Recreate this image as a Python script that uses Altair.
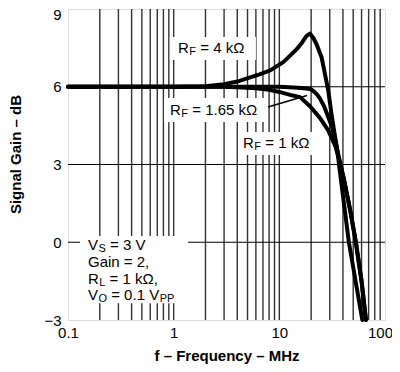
import altair as alt
import pandas as pd

# ---- data ----
f_4k = [0.1, 1.0, 2.0, 3.0, 4.0, 5.3, 6.5, 8.2, 10.9, 12.5, 14.6, 16.5, 18.1, 19.5, 21.0, 22.5, 25.1, 27.0, 29.0, 31.3, 33.0, 35.5, 37.5, 45.5, 61.0]
g_4k = [6.0, 6.0, 6.02, 6.1, 6.2, 6.36, 6.48, 6.63, 6.95, 7.18, 7.45, 7.72, 7.96, 8.05, 7.88, 7.64, 7.14, 6.5, 5.87, 4.9, 4.3, 3.5, 2.7, 0.0, -3.0]

f_165k = [0.1, 5.0, 10.0, 15.0, 18.0, 20.0, 21.5, 23.0, 24.2, 26.5, 28.8, 31.5, 34.0, 37.0, 41.0, 47.0, 53.0, 60.0, 66.0]
g_165k = [6.0, 6.0, 6.0, 5.96, 5.93, 5.9, 5.8, 5.68, 5.55, 5.25, 4.87, 4.45, 3.9, 3.2, 2.4, 1.2, 0.0, -1.5, -3.0]

f_1k = [0.1, 3.0, 4.0, 6.0, 8.0, 10.0, 13.4, 15.7, 19.5, 24.2, 28.8, 31.5, 34.0, 37.0, 41.0, 47.0, 53.0, 60.0, 66.0]
g_1k = [6.0, 6.0, 5.98, 5.94, 5.88, 5.8, 5.66, 5.6, 5.25, 4.8, 4.34, 4.0, 3.7, 3.15, 2.4, 1.2, 0.0, -1.5, -3.0]

x_ticks = [0.1, 1, 10, 100]
y_ticks = [-3, 0, 3, 6, 9]
v_grid = [m * d for d in [0.1, 1, 10] for m in range(1, 10)][1:]
h_grid = [0, 3, 6]

FONT = "Liberation Sans"

rows = []
for name, fs, gs in [("4k", f_4k, g_4k), ("1.65k", f_165k, g_165k), ("1k", f_1k, g_1k)]:
    for f, g in zip(fs, gs):
        rows.append({"curve": name, "f": f, "g": g})
curves_df = pd.DataFrame(rows)

xscale = alt.Scale(type="log", domain=[0.1, 100], nice=False)
yscale = alt.Scale(domain=[-3, 9], nice=False, zero=False)

X = alt.X("f:Q", scale=xscale,
          axis=alt.Axis(values=x_ticks, format="~g", grid=False, ticks=False, domain=False,
                        labelFlush=False, labelOverlap=False,
                        labelOffset={"condition": {"test": "datum.value == 100", "value": -5}, "value": 0},
                        labelFont=FONT, labelFontSize=15, labelColor="black", labelPadding=5,
                        title="f – Frequency – MHz", titleFont=FONT, titleFontSize=15,
                        titleFontWeight="bold", titleColor="black", titlePadding=8))
Y = alt.Y("g:Q", scale=yscale,
          axis=alt.Axis(values=y_ticks, format="d", grid=False, ticks=False, domain=False,
                        labelFlush=False, labelOverlap=False,
                        labelOffset={"condition": {"test": "datum.value == 9", "value": 5}, "value": 0},
                        labelFont=FONT, labelFontSize=15, labelColor="black", labelPadding=7,
                        title="Signal Gain – dB", titleFont=FONT, titleFontSize=15,
                        titleFontWeight="bold", titleColor="black", titlePadding=20, titleY=145))

vgrid = alt.Chart(pd.DataFrame({"f": v_grid})).mark_rule(color="#333333", strokeWidth=1.4).encode(
    x=alt.X("f:Q", scale=xscale))
hgrid = alt.Chart(pd.DataFrame({"g": h_grid})).mark_rule(color="black", strokeWidth=1).encode(
    y=alt.Y("g:Q", scale=yscale))

# white label backgrounds (data coordinates)
boxes = pd.DataFrame({
    "f1": [0.92, 0.81, 4.06, 0.13],
    "f2": [6.0, 7.3, 23.0, 1.37],
    "g1": [7.03, 4.64, 3.37, -2.35],
    "g2": [7.92, 5.57, 4.25, 0.24],
})
box_layer = alt.Chart(boxes).mark_rect(color="white").encode(
    x=alt.X("f1:Q", scale=xscale), x2="f2:Q",
    y=alt.Y("g1:Q", scale=yscale), y2="g2:Q")

leader = alt.Chart(pd.DataFrame({"f": [7.8], "f2": [18.3], "g": [5.22], "g2": [5.66]})).mark_rule(
    color="black", strokeWidth=1.5).encode(
    x=alt.X("f:Q", scale=xscale), x2="f2:Q", y=alt.Y("g:Q", scale=yscale), y2="g2:Q")

lines = alt.Chart(curves_df).mark_line(color="black", strokeWidth=4, strokeJoin="round", strokeCap="round").encode(
    x=X, y=Y, detail="curve:N")

BIG = 15
SUB = 11
CW = {" ": 0.278, "=": 0.584, "0": 0.556, ".": 0.278, "1": 0.556, "V": 0.667, "R": 0.722,
      "F": 0.611, "S": 0.667, "L": 0.556, "O": 0.778, "P": 0.667, "3": 0.556}


def width(s, size):
    return sum(CW.get(ch, 0.556) for ch in s) * size


def pieces(main, sub, rest, extra=None):
    out = [(main, BIG, 0, 0)]
    dx = width(main, BIG) + 0.5
    out.append((sub, SUB, dx, 4))
    dx += width(sub, SUB)
    lead = len(rest) - len(rest.lstrip(" "))
    dx += lead * CW[" "] * BIG
    body = rest.lstrip(" ")
    out.append((body, BIG, dx, 0))
    if extra:
        out.append((extra, SUB, dx + width(body, BIG) + 0.5, 4))
    return out


labels = [
    (1.10, 7.495, pieces("R", "F", " = 4 kΩ")),
    (0.923, 5.10, pieces("R", "F", " = 1.65 kΩ")),
    (4.53, 3.83, pieces("R", "F", " = 1 kΩ")),
    (0.1545, -0.107, pieces("V", "S", " = 3 V")),
    (0.1545, -0.763, [("Gain = 2,", BIG, 0, 0)]),
    (0.1545, -1.42, pieces("R", "L", " = 1 kΩ,")),
    (0.1545, -2.04, pieces("V", "O", " = 0.1 V", "PP")),
]

text_layers = []
for f, g, parts in labels:
    for txt, size, dx, dy in parts:
        text_layers.append(
            alt.Chart(pd.DataFrame({"f": [f], "g": [g], "t": [txt]})).mark_text(
                font=FONT, fontSize=size, color="black", align="left", baseline="middle",
                dx=dx, dy=dy).encode(x=alt.X("f:Q", scale=xscale), y=alt.Y("g:Q", scale=yscale), text="t:N"))

chart = alt.layer(vgrid, hgrid, box_layer, leader, lines, *text_layers).properties(
    width=317, height=311,
    autosize=alt.AutoSizeParams(type="none"),
    padding={"left": 60, "top": 1, "right": 7, "bottom": 44},
).configure_view(stroke="black", strokeWidth=3).configure(background="white")

chart.save("out.html", embed_options={"renderer": "svg", "actions": False})
